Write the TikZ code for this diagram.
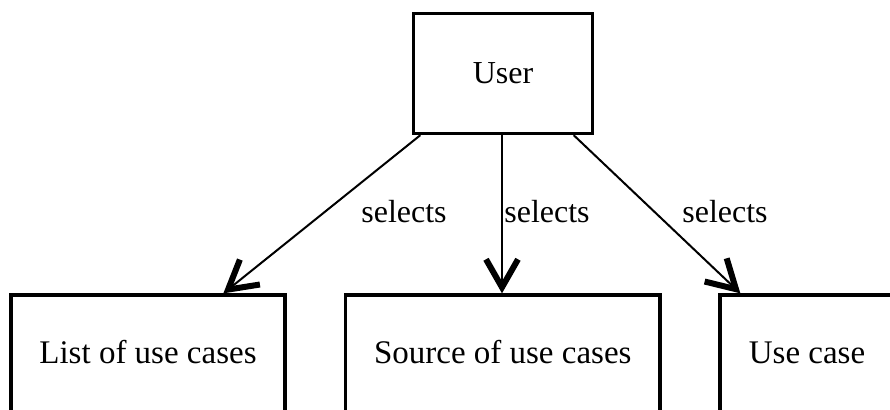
\documentclass[tikz,border=0pt]{standalone}
\usepackage{fontspec}
\setmainfont{Liberation Serif}
\usetikzlibrary{arrows.meta}
\begin{document}
\begin{tikzpicture}[x=1pt, y=-1pt,
  every node/.style={font=\fontsize{32}{38}\selectfont},
  box/.style={draw=black, line width=3.3pt, rectangle, inner sep=0pt},
  lowbox/.style={box, font=\fontsize{33}{40}\selectfont,
    minimum height=120pt, text height=22pt, text depth=6pt},
  tag/.style={inner sep=0pt, anchor=base},
  link/.style={draw=black, line width=2pt,
    -{Straight Barb[length=28pt, width=32pt, line width=6pt]}}]
  \useasboundingbox (0,0) rectangle (890,409);
  \clip (0,0) rectangle (890,409);
  \fill[white] (0,0) rectangle (890,409);

  % boxes
  \node[box, minimum width=179pt, minimum height=120pt] (user) at (503,73.5) {User};
  \node[lowbox, minimum width=274pt] (list) at (148,355) {List of use cases};
  \node[lowbox, minimum width=314.5pt] (source) at (502.75,355) {Source of use cases};
  \node[lowbox, minimum width=174pt] (usecase) at (807,355) {Use case};

  % connectors
  \draw[link] ([xshift=8.5pt]user.south west) -- ([xshift=214pt]list.north west);
  \draw[link] ([xshift=-1pt]user.south) -- ([xshift=-0.75pt]source.north);
  \draw[link] ([xshift=-20.5pt]user.south east) -- ([xshift=22pt]usecase.north west);

  % connector labels
  \node[tag] (lbl1) at (404,222) {selects};
  \node[tag] (lbl2) at (547,222) {selects};
  \node[tag] (lbl3) at (725,222) {selects};
\end{tikzpicture}
\end{document}
